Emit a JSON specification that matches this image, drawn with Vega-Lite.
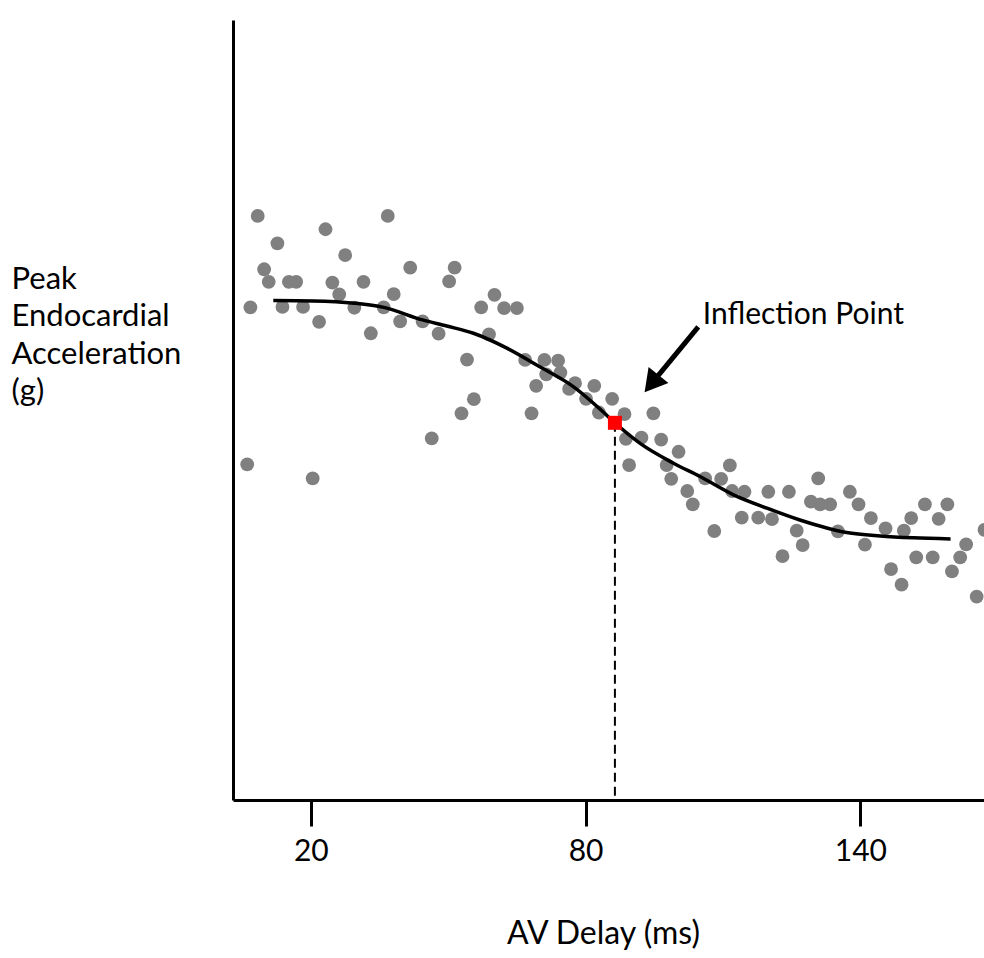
{
  "$schema": "https://vega.github.io/schema/vega-lite/v6.json",
  "width": 751,
  "height": 780,
  "autosize": "none",
  "padding": {"left": 233, "top": 20, "right": 0, "bottom": 158},
  "background": "white",
  "config": {
    "view": {"stroke": null},
    "font": "Lato",
    "axis": {"domainColor": "black", "tickColor": "black", "labelColor": "black", "titleColor": "black", "grid": false, "labelFont": "Lato", "titleFont": "Lato", "titleFontWeight": "normal"}
  },
  "datasets": {
    "pts": [
      {"x": 8.4, "y": 1.533}, {"x": 36.8, "y": 1.533}, {"x": 23.2, "y": 1.498}, {"x": 12.7, "y": 1.461},
      {"x": 27.5, "y": 1.430}, {"x": 9.8, "y": 1.393}, {"x": 41.7, "y": 1.397}, {"x": 51.4, "y": 1.397},
      {"x": 10.8, "y": 1.360}, {"x": 15.2, "y": 1.360}, {"x": 16.8, "y": 1.360}, {"x": 24.7, "y": 1.358},
      {"x": 31.5, "y": 1.360}, {"x": 50.2, "y": 1.361}, {"x": 26.2, "y": 1.327}, {"x": 38.1, "y": 1.328},
      {"x": 6.8, "y": 1.293}, {"x": 13.8, "y": 1.294}, {"x": 18.3, "y": 1.294}, {"x": 29.5, "y": 1.292},
      {"x": 35.9, "y": 1.293}, {"x": 57.2, "y": 1.293}, {"x": 21.8, "y": 1.255}, {"x": 39.5, "y": 1.256},
      {"x": 44.4, "y": 1.256}, {"x": 33.1, "y": 1.225}, {"x": 47.9, "y": 1.224}, {"x": 54.1, "y": 1.156},
      {"x": 55.6, "y": 1.052}, {"x": 52.9, "y": 1.015}, {"x": 46.4, "y": 0.949}, {"x": 6.1, "y": 0.881},
      {"x": 20.4, "y": 0.844}, {"x": 60.1, "y": 1.326}, {"x": 62.2, "y": 1.291}, {"x": 65.0, "y": 1.291},
      {"x": 58.9, "y": 1.222}, {"x": 66.8, "y": 1.155}, {"x": 71.0, "y": 1.155}, {"x": 74.0, "y": 1.153},
      {"x": 71.4, "y": 1.117}, {"x": 74.5, "y": 1.122}, {"x": 77.7, "y": 1.094}, {"x": 81.9, "y": 1.087},
      {"x": 69.2, "y": 1.087}, {"x": 76.4, "y": 1.079}, {"x": 80.1, "y": 1.053}, {"x": 85.8, "y": 1.053},
      {"x": 68.2, "y": 1.015}, {"x": 82.9, "y": 1.017}, {"x": 88.5, "y": 1.013}, {"x": 94.8, "y": 1.015},
      {"x": 88.8, "y": 0.948}, {"x": 92.2, "y": 0.951}, {"x": 96.5, "y": 0.946}, {"x": 100.3, "y": 0.914},
      {"x": 89.5, "y": 0.879}, {"x": 97.7, "y": 0.879}, {"x": 98.7, "y": 0.843}, {"x": 102.2, "y": 0.811},
      {"x": 106.1, "y": 0.844}, {"x": 111.5, "y": 0.878}, {"x": 109.6, "y": 0.843}, {"x": 112.0, "y": 0.811},
      {"x": 114.7, "y": 0.809}, {"x": 119.9, "y": 0.809}, {"x": 124.4, "y": 0.809}, {"x": 103.4, "y": 0.776},
      {"x": 114.1, "y": 0.741}, {"x": 117.7, "y": 0.741}, {"x": 120.7, "y": 0.737}, {"x": 108.1, "y": 0.706},
      {"x": 126.1, "y": 0.707}, {"x": 127.4, "y": 0.669}, {"x": 123.0, "y": 0.640}, {"x": 130.8, "y": 0.844},
      {"x": 137.7, "y": 0.809}, {"x": 129.2, "y": 0.783}, {"x": 131.2, "y": 0.776}, {"x": 133.4, "y": 0.776},
      {"x": 139.6, "y": 0.776}, {"x": 154.1, "y": 0.776}, {"x": 159.0, "y": 0.776}, {"x": 142.3, "y": 0.740},
      {"x": 151.1, "y": 0.740}, {"x": 157.1, "y": 0.738}, {"x": 135.1, "y": 0.705}, {"x": 145.5, "y": 0.713},
      {"x": 149.5, "y": 0.707}, {"x": 167.1, "y": 0.709}, {"x": 141.0, "y": 0.670}, {"x": 163.1, "y": 0.671},
      {"x": 152.2, "y": 0.637}, {"x": 155.8, "y": 0.637}, {"x": 161.8, "y": 0.637}, {"x": 146.7, "y": 0.606},
      {"x": 160.0, "y": 0.600}, {"x": 149.0, "y": 0.565}, {"x": 165.4, "y": 0.534}
    ],
    "curve": [
      {"x": 11.8, "y": 1.311}, {"x": 20.5, "y": 1.310}, {"x": 29.5, "y": 1.304}, {"x": 35.9, "y": 1.293},
      {"x": 44.4, "y": 1.260}, {"x": 49.7, "y": 1.244}, {"x": 55.5, "y": 1.225}, {"x": 62.8, "y": 1.186},
      {"x": 70.0, "y": 1.137}, {"x": 77.3, "y": 1.085}, {"x": 84.6, "y": 1.010}, {"x": 86.4, "y": 0.990},
      {"x": 91.9, "y": 0.936}, {"x": 99.2, "y": 0.884}, {"x": 105.0, "y": 0.849}, {"x": 112.3, "y": 0.801},
      {"x": 119.6, "y": 0.766}, {"x": 126.8, "y": 0.735}, {"x": 137.0, "y": 0.702}, {"x": 144.3, "y": 0.693},
      {"x": 151.6, "y": 0.688}, {"x": 159.7, "y": 0.685}
    ],
    "inflection": [{"x": 86.4, "y": 0.990, "y0": 0}],
    "arrow": [{"x": 104.6, "y": 1.242, "x2": 94.4, "y2": 1.093}],
    "label": [{"x": 105.6, "y": 1.249, "text": "Inflection Point"}]
  },
  "layer": [
    {
      "data": {"name": "pts"},
      "mark": {"type": "circle", "size": 190, "color": "#808080", "opacity": 1, "clip": true},
      "encoding": {
        "x": {"field": "x", "type": "quantitative", "scale": {"domain": [3, 167], "nice": false, "zero": false},
          "axis": {"values": [20, 80, 140], "title": "AV Delay (ms)", "titleFontSize": 32, "labelFontSize": 30, "domainWidth": 3, "tickWidth": 3, "tickSize": 26, "labelPadding": 10, "titleX": 370, "titleY": 143, "titleAlign": "center", "titleBaseline": "alphabetic"}},
        "y": {"field": "y", "type": "quantitative", "scale": {"domain": [0, 2.0472], "nice": false, "zero": false},
          "axis": {"title": ["Peak", "Endocardial", "Acceleration", "(g)"], "labels": false, "ticks": false, "domainWidth": 3, "titleFontSize": 31, "titleAngle": 0, "titleAlign": "left", "titleBaseline": "alphabetic", "titleX": -222, "titleY": 268, "titleLineHeight": 37.5}}
      }
    },
    {
      "data": {"name": "curve"},
      "mark": {"type": "line", "color": "black", "strokeWidth": 3.5, "interpolate": "monotone"},
      "encoding": {
        "x": {"field": "x", "type": "quantitative"},
        "y": {"field": "y", "type": "quantitative"}
      }
    },
    {
      "data": {"name": "inflection"},
      "mark": {"type": "rule", "color": "black", "strokeWidth": 2, "strokeDash": [9, 5]},
      "encoding": {
        "x": {"field": "x", "type": "quantitative"},
        "y": {"field": "y", "type": "quantitative"},
        "y2": {"field": "y0"}
      }
    },
    {
      "data": {"name": "inflection"},
      "mark": {"type": "square", "size": 196, "color": "#ff0000", "opacity": 1},
      "encoding": {
        "x": {"field": "x", "type": "quantitative"},
        "y": {"field": "y", "type": "quantitative"}
      }
    },
    {
      "data": {"name": "arrow"},
      "mark": {"type": "rule", "color": "black", "strokeWidth": 5},
      "encoding": {
        "x": {"field": "x", "type": "quantitative"},
        "y": {"field": "y", "type": "quantitative"},
        "x2": {"field": "x2"},
        "y2": {"field": "y2"}
      }
    },
    {
      "data": {"name": "arrow"},
      "mark": {"type": "point", "shape": "triangle-up", "size": 650, "filled": true, "color": "black", "opacity": 1, "angle": 219},
      "encoding": {
        "x": {"field": "x2", "type": "quantitative"},
        "y": {"field": "y2", "type": "quantitative"}
      }
    },
    {
      "data": {"name": "label"},
      "mark": {"type": "text", "align": "left", "baseline": "alphabetic", "fontSize": 30, "font": "Lato", "color": "black"},
      "encoding": {
        "x": {"field": "x", "type": "quantitative"},
        "y": {"field": "y", "type": "quantitative"},
        "text": {"field": "text"}
      }
    }
  ]
}
